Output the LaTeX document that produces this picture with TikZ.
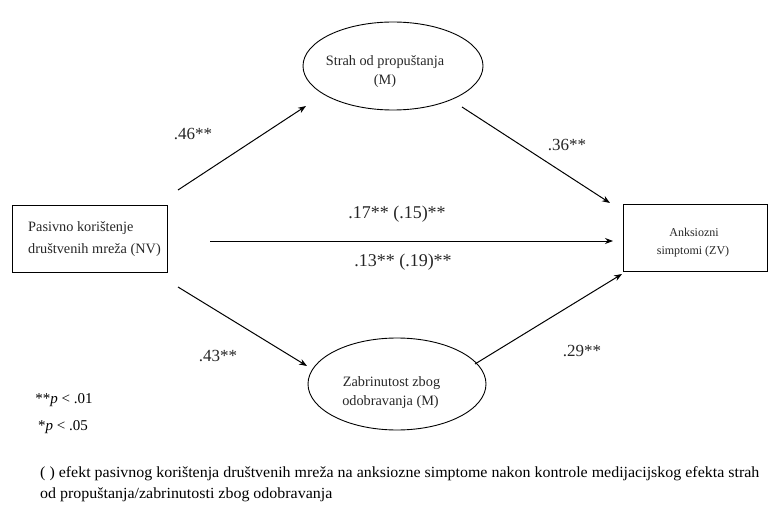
\documentclass[tikz,border=0pt]{standalone}
\usepackage{fontspec}
\setmainfont{Liberation Serif}
\usetikzlibrary{shapes.geometric,arrows.meta}
\begin{document}
\begin{tikzpicture}[x=1pt,y=-1pt,
  box/.style={draw,line width=0.9pt,inner sep=0pt},
  oval/.style={draw,ellipse,line width=0.9pt,inner sep=0pt},
  arr/.style={-{Stealth[length=8pt,width=6pt]},line width=1pt},
  lab/.style={font=\fontsize{17}{20}\selectfont,text=black!85},
  txt/.style={font=\fontsize{14.3}{16}\selectfont,text=black!85,inner sep=0pt}]
\useasboundingbox (0,0) rectangle (769,508);
\node[box,minimum width=155pt,minimum height=67pt] (nv) at (89.5,238.5) {};
\node[txt,anchor=west] (t1) at (28,228) {Pasivno korištenje};
\node[txt,anchor=west] (t2) at (28,250) {društvenih mreža (NV)};
\node[box,minimum width=144pt,minimum height=67pt] (zv) at (695,237.5) {};
\node[txt,font=\fontsize{12}{14}\selectfont] (t3) at (694,232) {Anksiozni};
\node[txt,font=\fontsize{12}{14}\selectfont] (t4) at (693,252) {simptomi (ZV)};
\node[oval,minimum width=180pt,minimum height=88pt] (m1) at (393,66) {};
\node[txt] (t5) at (385,62) {Strah od propuštanja};
\node[txt] (t6) at (385,81) {(M)};
\node[oval,minimum width=178pt,minimum height=92pt] (m2) at (397,384) {};
\node[txt] (t7) at (391.5,383) {Zabrinutost zbog};
\node[txt] (t8) at (390.5,402) {odobravanja (M)};
\coordinate (a1) at (178,190); \coordinate (a2) at (306,106);
\coordinate (b1) at (462,107); \coordinate (b2) at (610,203);
\coordinate (c1) at (210,241); \coordinate (c2) at (613,241);
\coordinate (d1) at (178,287); \coordinate (d2) at (307,366);
\coordinate (e1) at (475,364); \coordinate (e2) at (622,274);
\draw[arr] (a1) -- (a2);
\draw[arr] (b1) -- (b2);
\draw[arr] (c1) -- (c2);
\draw[arr] (d1) -- (d2);
\draw[arr] (e1) -- (e2);
\node[lab] (l1) at (193,134) {.46**};
\node[lab] (l2) at (567,145) {.36**};
\node[lab,font=\fontsize{18}{20}\selectfont] (l3) at (397,214) {.17** (.15)**};
\node[lab,font=\fontsize{18}{20}\selectfont] (l4) at (403,262) {.13** (.19)**};
\node[lab] (l5) at (218,356) {.43**};
\node[lab] (l6) at (582,351) {.29**};
\node[font=\fontsize{15}{17}\selectfont] (p1) at (64,400) {**\textit{p} < .01};
\node[font=\fontsize{15}{17}\selectfont] (p2) at (63,427) {*\textit{p} < .05};
\node[anchor=west,inner sep=0pt,font=\fontsize{15.5}{17}\selectfont] (f1) at (40,474) {\scalebox{1.03}[1]{( ) efekt pasivnog korištenja društvenih mreža na anksiozne simptome nakon kontrole medijacijskog efekta strah}};
\node[anchor=west,inner sep=0pt,font=\fontsize{15.5}{17}\selectfont] (f2) at (40,495) {\scalebox{1.03}[1]{od propuštanja/zabrinutosti zbog odobravanja}};
\end{tikzpicture}
\end{document}
